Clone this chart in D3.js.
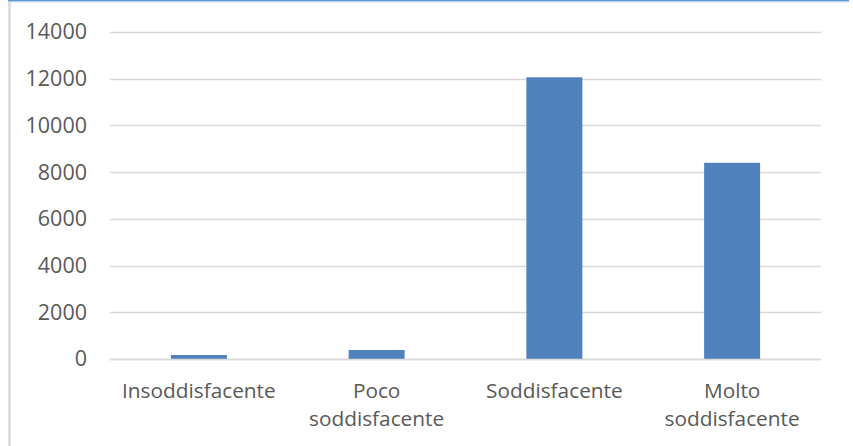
<!DOCTYPE html>
<html><head><meta charset="utf-8">
<script src="https://cdn.jsdelivr.net/npm/d3@7/dist/d3.min.js"></script>
<style>html,body{margin:0;padding:0;background:#fff;}svg{display:block;}</style>
</head><body>
<script>
const categories = [["Insoddisfacente"], ["Poco", "soddisfacente"], ["Soddisfacente"], ["Molto", "soddisfacente"]];
const values = [170, 385, 12060, 8400];
const yTicks = [0, 2000, 4000, 6000, 8000, 10000, 12000, 14000];

const W = 853, H = 446;
const m = {left: 110, right: 32, top: 32, bottom: 87};
const svg = d3.select("body").append("svg").attr("width", W).attr("height", H);

// frame edges
svg.append("line").attr("x1", 9.5).attr("x2", 9.5).attr("y1", 0).attr("y2", H)
  .attr("stroke", "#d9d9d9").attr("stroke-width", 2.5);
svg.append("line").attr("x1", 8).attr("x2", 849).attr("y1", 0.7).attr("y2", 0.7)
  .attr("stroke", "#5b9bd5").attr("stroke-width", 1.4);
svg.append("line").attr("x1", 8).attr("x2", 849).attr("y1", 2.2).attr("y2", 2.2)
  .attr("stroke", "#e4e4e4").attr("stroke-width", 1);

const x = d3.scaleBand().domain(d3.range(categories.length)).range([m.left, W - m.right]).paddingInner(0.685).paddingOuter(0.3425);
const y = d3.scaleLinear().domain([0, 14000]).range([H - m.bottom, m.top]);

const font = "'Open Sans', sans-serif";

// gridlines
svg.append("g").selectAll("line").data(yTicks).join("line")
  .attr("x1", m.left).attr("x2", W - m.right)
  .attr("y1", d => Math.round(y(d)) + 0.5).attr("y2", d => Math.round(y(d)) + 0.5)
  .attr("stroke", "#d9d9d9").attr("stroke-width", 1.3);

// y axis labels
const yAxis = d3.axisLeft(y).tickValues(yTicks).tickSize(0).tickPadding(23).tickFormat(d3.format("d"));
const gy = svg.append("g").attr("transform", `translate(${m.left},0)`).call(yAxis);
gy.select(".domain").remove();
gy.selectAll("text").attr("font-family", font).attr("font-size", 21.5).attr("fill", "#595959");

// bars
svg.append("g").selectAll("rect").data(values).join("rect")
  .attr("x", (d, i) => x(i)).attr("width", x.bandwidth())
  .attr("y", d => y(d)).attr("height", d => y(0) - y(d))
  .attr("fill", "#4f81bd");

// x baseline
svg.append("line").attr("x1", m.left).attr("x2", W - m.right)
  .attr("y1", Math.round(y(0)) + 0.5).attr("y2", Math.round(y(0)) + 0.5)
  .attr("stroke", "#d9d9d9").attr("stroke-width", 1.3);

// category labels
const gx = svg.append("g");
categories.forEach((lines, i) => {
  const t = gx.append("text").attr("text-anchor", "middle")
    .attr("font-family", font).attr("font-size", 20.8).attr("fill", "#595959");
  lines.forEach((ln, j) => {
    t.append("tspan").attr("x", x(i) + x.bandwidth() / 2).attr("y", 398 + j * 28).text(ln);
  });
});
</script>
</body></html>
